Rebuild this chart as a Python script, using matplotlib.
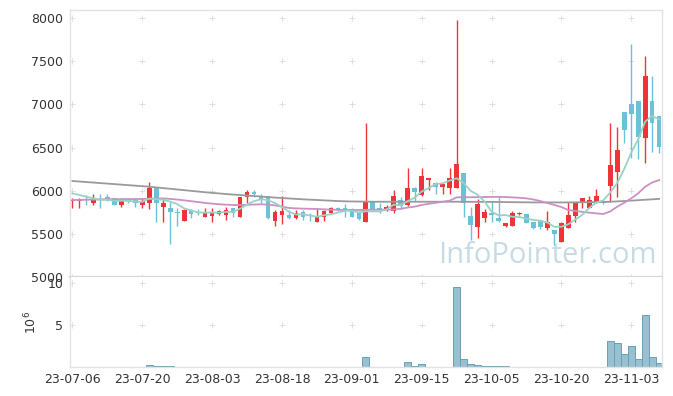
import numpy as np
import pandas as pd
import matplotlib
matplotlib.use("Agg")
import matplotlib.pyplot as plt

# daily candles (index = trading day)
opens = [5880, 5885, 5900, 5853, 5906, 5923, 5911, 5838, 5892, 5892,
         5838, 5853, 6027, 5807, 5795, 5756, 5652, 5768, 5756, 5698,
         5710, 5726, 5718, 5795, 5698, 5923, 5985, 5938, 5938, 5652,
         5718, 5718, 5680, 5756, 5700, 5633, 5691, 5745, 5795, 5795,
         5784, 5737, 5640, 5865, 5795, 5784, 5768, 5888, 5830, 6031,
         5945, 6123, 6085, 6040, 6034, 6034, 6200, 5706, 5583, 5687,
         5745, 5680, 5590, 5594, 5726, 5729, 5633, 5652, 5571, 5544,
         5409, 5564, 5710, 5861, 5795, 5853, 5872, 6057, 6219, 6914,
         7003, 7041, 6606, 7041, 6864]
highs = [5915, 5915, 5950, 5960, 5960, 5960, 5915, 5911, 5911, 5911,
         5911, 6104, 6027, 5900, 5872, 5795, 5784, 5784, 5784, 5795,
         5795, 5776, 5815, 5795, 5930, 6007, 6007, 5960, 5938, 5776,
         5938, 5776, 5776, 5776, 5737, 5795, 5776, 5806, 5810, 5842,
         5795, 5760, 6787, 5865, 5853, 5830, 6007, 5930, 6259, 6045,
         6259, 6143, 6095, 6080, 6259, 7976, 6200, 5807, 5900, 5790,
         5872, 5930, 5630, 5760, 5750, 5735, 5640, 5660, 5770, 5544,
         5640, 5872, 5870, 5920, 5935, 6015, 5890, 6787, 6740, 6914,
         7698, 7041, 7559, 7327, 6864]
lows = [5800, 5800, 5834, 5834, 5800, 5880, 5830, 5815, 5853, 5815,
        5800, 5784, 5640, 5633, 5382, 5591, 5652, 5680, 5718, 5698,
        5640, 5720, 5660, 5700, 5698, 5853, 5930, 5860, 5670, 5590,
        5614, 5670, 5670, 5660, 5650, 5633, 5650, 5745, 5770, 5698,
        5698, 5660, 5640, 5770, 5737, 5760, 5741, 5790, 5826, 5880,
        5942, 6007, 5960, 5960, 5960, 6034, 5698, 5430, 5450, 5640,
        5640, 5640, 5583, 5594, 5718, 5621, 5560, 5560, 5540, 5370,
        5400, 5564, 5640, 5800, 5795, 5853, 5845, 5865, 5930, 6548,
        6374, 6363, 6317, 6451, 6432]
closes = [5893, 5900, 5890, 5892, 5895, 5900, 5838, 5892, 5885, 5861,
          5880, 6027, 5853, 5853, 5756, 5737, 5776, 5729, 5740, 5745,
          5745, 5768, 5776, 5737, 5930, 5985, 5965, 5892, 5680, 5756,
          5768, 5680, 5737, 5691, 5690, 5691, 5768, 5795, 5788, 5788,
          5698, 5668, 5865, 5784, 5788, 5815, 5938, 5825, 6031, 5988,
          6170, 6143, 6046, 6080, 6143, 6309, 5861, 5602, 5850, 5756,
          5718, 5645, 5621, 5745, 5745, 5621, 5571, 5583, 5633, 5494,
          5629, 5718, 5853, 5911, 5892, 5938, 5853, 6297, 6471, 6702,
          6884, 6618, 7331, 6787, 6509]
# volume in millions
volume = [0, 0, 0, 0, 0, 0, 0, 0, 0, 0,
          0, 0.22, 0.1, 0.1, 0.1, 0, 0, 0, 0, 0,
          0, 0, 0, 0, 0, 0, 0, 0, 0, 0,
          0, 0, 0, 0, 0, 0, 0, 0, 0, 0,
          0, 0, 1.15, 0, 0, 0, 0.05, 0, 0.55, 0.12,
          0.3, 0, 0, 0, 0.05, 9.5, 0.9, 0.32, 0.2, 0.07,
          0.07, 0.07, 0.07, 0, 0, 0.06, 0, 0, 0, 0.06,
          0, 0, 0.06, 0.06, 0.06, 0.06, 0, 3.1, 2.85, 1.6,
          2.5, 1.0, 6.2, 1.2, 0.5]

# moving averages as drawn on the chart
ma5_head = [5969, 5950, 5930, 5911]
ma20 = [5892, 5893, 5895, 5897, 5899, 5900, 5901, 5902, 5903, 5903,
        5904, 5906, 5911, 5910, 5905, 5897, 5888, 5878, 5868, 5858,
        5850, 5843, 5838, 5834, 5834, 5836, 5840, 5842, 5838, 5830,
        5815, 5800, 5795, 5792, 5790, 5788, 5784, 5780, 5778, 5776,
        5776, 5776, 5778, 5780, 5780, 5780, 5782, 5790, 5805, 5815,
        5834, 5848, 5860, 5872, 5884, 5923, 5923, 5924, 5925, 5926,
        5928, 5928, 5926, 5922, 5918, 5911, 5898, 5880, 5857, 5835,
        5810, 5776, 5765, 5755, 5745, 5737, 5730, 5760, 5815, 5860,
        5911, 5970, 6046, 6095, 6123]
ma60 = [6112, 6106, 6100, 6094, 6088, 6082, 6076, 6070, 6064, 6058,
        6052, 6046, 6038, 6030, 6022, 6014, 6006, 5998, 5990, 5982,
        5975, 5968, 5961, 5955, 5950, 5944, 5938, 5932, 5926, 5920,
        5915, 5910, 5905, 5900, 5896, 5892, 5888, 5884, 5880, 5877,
        5875, 5874, 5873, 5872, 5872, 5872, 5872, 5872, 5872, 5872,
        5872, 5872, 5872, 5872, 5872, 5872, 5872, 5871, 5871, 5870,
        5870, 5869, 5868, 5867, 5866, 5865, 5864, 5864, 5864, 5864,
        5864, 5864, 5865, 5866, 5867, 5868, 5869, 5872, 5876, 5880,
        5885, 5890, 5895, 5900, 5905]

tick_idx = [0, 10, 20, 30, 40, 50, 60, 70, 80]
tick_labels = ["23-07-06", "23-07-20", "23-08-03", "23-08-18", "23-09-01",
               "23-09-15", "23-10-05", "23-10-20", "23-11-03"]
price_ticks = [5000, 5500, 6000, 6500, 7000, 7500, 8000]
vol_ticks = [5, 10]

UP = "#ec3439"
DOWN = "#6cc0d8"
GRID = "#dadada"
SPINE = "#e2e2e2"
TXT = "#333333"

o = np.array(opens)
c = np.array(closes)
x = np.arange(len(o))
ma5 = pd.Series(closes, dtype=float).rolling(5).mean().to_numpy()
ma5[:4] = ma5_head

fig = plt.figure(figsize=(6.73, 3.96), dpi=100)
ax = fig.add_axes([0.104, 0.3005, 0.8796, 0.6742])
axv = fig.add_axes([0.104, 0.0732, 0.8796, 0.2273], sharex=ax)

colors = np.where(c >= o, UP, DOWN)
ax.vlines(x, lows, highs, colors=colors, lw=1.0, zorder=2)
body_low = np.minimum(o, c)
body_h = np.maximum(np.abs(c - o), 9)
ax.bar(x, body_h, bottom=body_low, width=0.66, color=colors, lw=0, zorder=2)

ax.plot(x, ma60, color="#9a9a9a", lw=1.3, zorder=3)
ax.plot(x, ma20, color="#cc8fc6", lw=1.3, zorder=3)
ax.plot(x, ma5, color="#98d3c6", lw=1.3, zorder=3)

axv.bar(x, volume, width=1.0, color="#98c0d1", edgecolor="#6c9fb7", lw=0.7, zorder=2)

ax.set_xlim(-0.35, 84.4)
ax.set_ylim(5000, 8093)
axv.set_ylim(0, 10.7)

# grid drawn as small plus marks at tick crossings
gx, gy = np.meshgrid(tick_idx, price_ticks)
ax.scatter(gx.ravel(), gy.ravel(), marker="+", s=18, color=GRID, lw=0.6, zorder=1)
gx, gy = np.meshgrid(tick_idx, vol_ticks)
axv.scatter(gx.ravel(), gy.ravel(), marker="+", s=18, color=GRID, lw=0.6, zorder=1)

ax.set_yticks(price_ticks)
ax.tick_params(axis="y", length=0, labelsize=9, labelcolor=TXT, pad=5)
ax.tick_params(axis="x", length=0, labelbottom=False)
axv.set_yticks(vol_ticks)
axv.set_yticklabels(["5", "10"])
axv.tick_params(axis="y", length=0, labelsize=9, labelcolor=TXT, pad=5)
axv.set_xticks(tick_idx)
axv.set_xticklabels(tick_labels)
axv.tick_params(axis="x", length=0, labelsize=9, labelcolor=TXT, pad=4)
axv.set_ylabel("$10^6$", fontsize=9, color=TXT, labelpad=6)

for a in (ax, axv):
    for s in a.spines.values():
        s.set_color(SPINE)
        s.set_linewidth(1.0)
ax.spines["bottom"].set_color("#d6d6d6")
ax.spines["bottom"].set_linewidth(1.6)
axv.spines["top"].set_visible(False)

ax.text(0.806, 0.08, "InfoPointer.com", transform=ax.transAxes, ha="center",
        va="center", fontsize=21, family="Open Sans", color="#b5cfdc",
        alpha=0.75, zorder=0)

fig.savefig("out.png", dpi=100)
